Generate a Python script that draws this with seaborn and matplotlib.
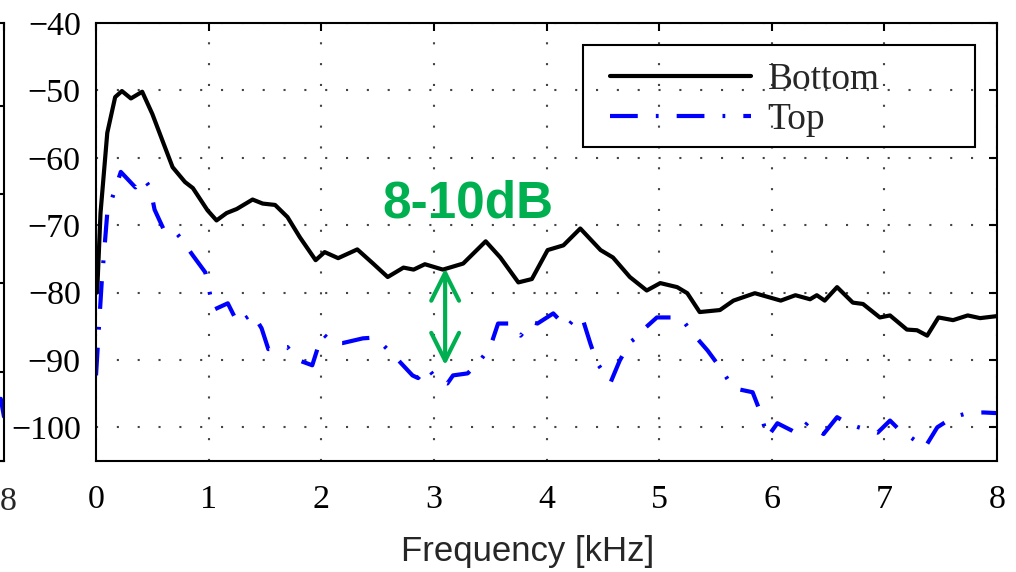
import numpy as np
import pandas as pd
import matplotlib
matplotlib.use("Agg")
import matplotlib.pyplot as plt
from matplotlib.patches import Rectangle
import seaborn as sns

# ---------------- data ----------------
freq_bottom = [0.01, 0.04, 0.10, 0.17, 0.23, 0.31, 0.41, 0.50, 0.60, 0.68, 0.79, 0.86,
               0.99, 1.07, 1.16, 1.25, 1.39, 1.48, 1.59, 1.70, 1.81, 1.95, 2.03, 2.15,
               2.32, 2.46, 2.59, 2.73, 2.82, 2.92, 3.08, 3.26, 3.46, 3.59, 3.75, 3.87,
               4.01, 4.15, 4.30, 4.48, 4.59, 4.74, 4.89, 5.01, 5.16, 5.25, 5.36, 5.54,
               5.66, 5.85, 6.08, 6.21, 6.34, 6.40, 6.47, 6.58, 6.72, 6.81, 6.96, 7.05,
               7.20, 7.29, 7.38, 7.48, 7.61, 7.74, 7.85, 8.00]
level_bottom = [-80.0, -68.2, -56.3, -51.0, -50.1, -51.2, -50.2, -53.5, -57.9, -61.4, -63.6, -64.5,
                -67.8, -69.3, -68.2, -67.6, -66.2, -66.8, -67.0, -68.8, -71.8, -75.2, -74.0, -74.9,
                -73.6, -75.7, -77.7, -76.3, -76.6, -75.8, -76.6, -75.7, -72.4, -74.8, -78.5, -78.0,
                -73.7, -73.0, -70.5, -73.7, -74.8, -77.7, -79.7, -78.6, -79.2, -80.1, -82.9, -82.6,
                -81.2, -80.1, -81.2, -80.4, -81.0, -80.4, -81.2, -79.2, -81.5, -81.7, -83.7, -83.4,
                -85.5, -85.6, -86.4, -83.7, -84.1, -83.4, -83.8, -83.5]

freq_top = [0.00, 0.05, 0.10, 0.22, 0.35, 0.42, 0.48, 0.52, 0.60, 0.68, 0.75, 0.86,
            0.97, 1.00, 1.04, 1.17, 1.26, 1.39, 1.47, 1.53, 1.70, 1.79, 1.92, 1.99,
            2.02, 2.10, 2.19, 2.37, 2.46, 2.55, 2.67, 2.81, 2.86, 2.94, 3.03, 3.12,
            3.17, 3.30, 3.41, 3.50, 3.57, 3.68, 3.77, 3.87, 3.92, 4.06, 4.18, 4.27,
            4.33, 4.39, 4.45, 4.57, 4.65, 4.74, 4.86, 4.88, 4.98, 5.19, 5.30, 5.43,
            5.54, 5.66, 5.83, 5.90, 5.96, 6.05, 6.18, 6.23, 6.32, 6.46, 6.58, 6.67,
            6.77, 6.94, 7.05, 7.14, 7.21, 7.36, 7.47, 7.61, 7.74, 7.88, 8.00]
level_top = [-92.3, -78.6, -68.2, -62.1, -64.4, -63.0, -64.4, -67.7, -70.6, -70.5, -71.9, -74.5,
             -77.0, -79.2, -82.6, -81.6, -84.6, -83.1, -85.3, -88.4, -88.1, -90.0, -90.8, -87.1,
             -86.2, -87.5, -87.5, -86.8, -86.7, -87.8, -89.8, -92.3, -92.7, -91.1, -93.0, -93.5,
             -92.3, -92.0, -90.1, -88.1, -84.6, -84.6, -86.4, -84.4, -84.6, -83.1, -85.2, -83.4,
             -84.4, -87.6, -90.5, -93.3, -90.1, -87.4, -85.9, -85.2, -83.7, -83.7, -86.1, -88.6,
             -91.1, -94.2, -94.8, -97.8, -101.5, -99.4, -100.5, -101.0, -99.3, -101.0, -98.5, -99.4,
             -100.0, -100.8, -99.0, -100.5, -101.2, -103.0, -100.0, -98.5, -97.9, -97.8, -97.9]

series_names = ["Bottom", "Top"]
x_ticks = [0, 1, 2, 3, 4, 5, 6, 7, 8]
y_ticks = [-100, -90, -80, -70, -60, -50, -40]
annotation_text = "8-10dB"
arrow_freq = 3.1
arrow_levels = [-76.4, -90.8]

# fragment of the neighbouring panel visible at the left edge
neighbor_freq = [7.95, 8.00]
neighbor_top = [-93.0, -95.0]
neighbor_last_tick = "8"

# ---------------- style ----------------
sns.set_style("white")
plt.rcParams["font.family"] = ["Liberation Serif", "DejaVu Serif"]
plt.rcParams["lines.scale_dashes"] = False
plt.rcParams["axes.unicode_minus"] = True

green = "#00B050"
blue = "#0000FF"
lw = 3.0

df = pd.concat([
    pd.DataFrame({"Frequency": freq_bottom, "Level": level_bottom, "Series": series_names[0]}),
    pd.DataFrame({"Frequency": freq_top, "Level": level_top, "Series": series_names[1]}),
], ignore_index=True)

fig = plt.figure(figsize=(10.16, 5.72), dpi=100)
ax = fig.add_axes([0.0945, 0.1941, 0.8868, 0.7657])

sns.lineplot(data=df, x="Frequency", y="Level", hue="Series", style="Series",
             palette={"Bottom": "black", "Top": blue},
             dashes={"Bottom": "", "Top": (20, 13, 2, 13)},
             linewidth=lw, sort=False, estimator=None, ax=ax)

ax.set_xlim(0, 8)
ax.set_ylim(-105, -40)
ax.set_xticks(x_ticks)
ax.set_yticks(y_ticks)
ax.grid(True, linestyle=(0, (1.5, 13.5)), color="#444444", linewidth=1.5)
ax.tick_params(direction="in", length=6, width=1.5, top=True, right=True,
               labelsize=24.5, colors="black")
ax.tick_params(axis="x", pad=17)
ax.tick_params(axis="y", pad=11)
for s in ax.spines.values():
    s.set_color("black")
    s.set_linewidth(1.5)

ax.set_ylabel("")
ax.set_xlabel("Frequency [kHz]", family=["Liberation Sans", "DejaVu Sans"], fontsize=25)
ax.xaxis.set_label_coords(0.479, -0.168)

# legend (frameless) + separate MATLAB-like box
handles, labels = ax.get_legend_handles_labels()
leg = ax.legend(handles, labels, loc="upper left", bbox_to_anchor=(0.5705, 0.910),
                borderaxespad=0, borderpad=0, fontsize=27, handlelength=3.75,
                handletextpad=0.45, labelspacing=0.16, frameon=False)
for ln in leg.get_lines():
    ln.set_linewidth(lw)
ax.add_patch(Rectangle((0.5405, 0.7169), 0.4351, 0.2329, transform=ax.transAxes,
                       facecolor="none", edgecolor="black", linewidth=1.5, zorder=4))

ax.text(3.30, -68.8, annotation_text, color=green, fontsize=37, fontweight="bold",
        family=["Liberation Sans", "DejaVu Sans"], ha="center", va="baseline")
ax.annotate("", xy=(arrow_freq, arrow_levels[1]), xytext=(arrow_freq, arrow_levels[0]),
            arrowprops=dict(arrowstyle="<->,head_length=1.0,head_width=0.5", color=green,
                            lw=3, mutation_scale=20, shrinkA=0, shrinkB=0))

# neighbouring panel fragment
nax = fig.add_axes([-0.5, 0.1941, 0.5039, 0.7657])
sns.lineplot(x=neighbor_freq, y=neighbor_top, color=blue, linewidth=lw, ax=nax)
nax.set_xlim(0, 8)
nax.set_ylim(-100, -50.7)
nax.set_xticks(x_ticks)
nax.set_xticklabels([])
nax.set_yticklabels([])
nax.tick_params(direction="in", length=6, width=1.5, top=True, right=True, colors="black")
for s in nax.spines.values():
    s.set_color("black")
    s.set_linewidth(1.5)
fig.text(0.0, 1 - 510 / 572, neighbor_last_tick, fontsize=24.5, ha="left", va="baseline")

fig.savefig("out.png", dpi=100)
